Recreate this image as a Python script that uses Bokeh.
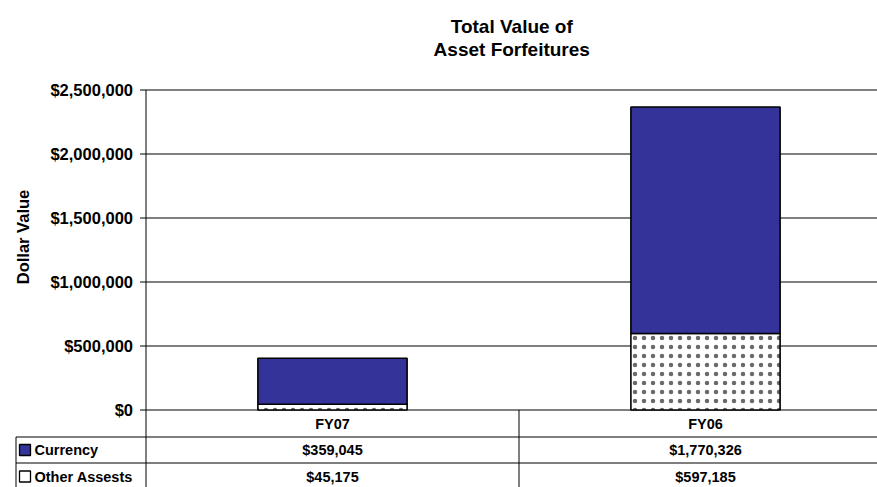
import math
from bokeh.plotting import figure
from bokeh.models import ColumnDataSource, Range1d
from bokeh.embed import file_html
from bokeh.resources import INLINE
from bokeh.core.properties import value

# ---------------- data ----------------
categories = ["FY07", "FY06"]
currency = [359045, 1770326]
other_assets = [45175, 597185]
series_names = ["Currency", "Other Assests"]
title_lines = ["Total Value of", "Asset Forfeitures"]
y_ticks = [0, 500000, 1000000, 1500000, 2000000, 2500000]
y_label = "Dollar Value"

# ---------------- styling / geometry (pixels) ----------------
FONT = "Liberation Sans"
NAVY = "#333399"
W, H = 877, 487
PLOT_X0 = 145.5       # left edge of plot area (value axis)
CAT_W = 373.0         # pixels per category
Y_MAX = 2500000
PX_PER_YMAX = 320.0   # pixels from $0 to $2,500,000
ZERO_Y = 409.5        # pixel row of the $0 line


def yv(py):
    """data value at pixel row py"""
    return (ZERO_Y - py) / PX_PER_YMAX * Y_MAX


def xv(px):
    """category coordinate at pixel column px"""
    return (px - PLOT_X0) / CAT_W


n = len(categories)
xs = [i + 0.5 for i in range(n)]
totals = [c + o for c, o in zip(currency, other_assets)]
src = ColumnDataSource(dict(x=xs, cur=currency, oth=other_assets, tot=totals))

p = figure(width=W, height=H, title=None, toolbar_location=None, output_backend="svg",
           x_axis_location=None, y_axis_location=None,
           x_range=Range1d(xv(0), xv(W)), y_range=Range1d(yv(H), yv(0)),
           min_border_left=0, min_border_right=0, min_border_top=0, min_border_bottom=0)
p.outline_line_color = None
p.background_fill_color = "white"
p.border_fill_color = "white"
p.xgrid.visible = False
p.ygrid.visible = False

x_end = xv(W + 20)
y_end = yv(H + 20)
LC = "black"

# gridlines (value axis)
p.segment(x0=[0] * len(y_ticks), y0=y_ticks, x1=[x_end] * len(y_ticks), y1=y_ticks,
          line_color=LC, line_width=1)
# value axis line (continues down through the data table)
p.segment(x0=[0], y0=[max(y_ticks)], x1=[0], y1=[y_end], line_color=LC, line_width=1)
# tick marks
p.segment(x0=[xv(PLOT_X0 - 6)] * len(y_ticks), y0=y_ticks, x1=[0] * len(y_ticks), y1=y_ticks,
          line_color=LC, line_width=1)
# tick labels
p.text(x=[xv(PLOT_X0 - 13)] * len(y_ticks), y=y_ticks, text=[f"${v:,.0f}" for v in y_ticks],
       text_font=value(FONT), text_font_style="bold", text_font_size="16.5px",
       text_align="right", text_baseline="middle", text_color="black")
# axis title
p.text(x=[xv(22)], y=[yv(236.5)], text=[y_label], angle=math.pi / 2,
       text_font=value(FONT), text_font_style="bold", text_font_size="16.5px",
       text_align="center", text_baseline="middle", text_color="black")

# bars
BAR_W = 0.4
p.vbar(x="x", bottom=0, top="oth", width=BAR_W, source=src,
       fill_color="white", line_color="black", line_width=1.6,
       hatch_pattern="dot", hatch_scale=9, hatch_color="#6a6a6a", hatch_weight=0.4)
p.vbar(x="x", bottom="oth", top="tot", width=BAR_W, source=src,
       fill_color=NAVY, line_color="black", line_width=1.6)

# chart title, centred over the plot area
xc = xv((PLOT_X0 + W) / 2)
p.text(x=[xc, xc], y=[yv(25.5), yv(48.5)], text=title_lines,
       text_font=value(FONT), text_font_style="bold", text_font_size="19px",
       text_align="center", text_baseline="alphabetic", text_color="black")

# ---------------- data table ----------------
row_lines = [ZERO_Y + 27, ZERO_Y + 53]          # row separators
row_c = [ZERO_Y + 13.5, ZERO_Y + 40, ZERO_Y + 66.5]
TABLE_X0 = 15.5

p.segment(x0=[xv(TABLE_X0)] * 2, y0=[yv(r) for r in row_lines],
          x1=[x_end] * 2, y1=[yv(r) for r in row_lines], line_color=LC, line_width=1)
p.segment(x0=[xv(TABLE_X0)], y0=[yv(row_lines[0])], x1=[xv(TABLE_X0)], y1=[y_end],
          line_color=LC, line_width=1)
div_x = [float(i) for i in range(1, n)]
p.segment(x0=div_x, y0=[0] * len(div_x), x1=div_x, y1=[y_end] * len(div_x),
          line_color=LC, line_width=1)

txt = dict(text_font=value(FONT), text_font_style="bold", text_font_size="14.5px",
           text_color="black", text_baseline="middle")
p.text(x=xs, y=[yv(row_c[0])] * n, text=categories, text_align="center", **txt)
p.text(x=xs, y=[yv(row_c[1])] * n, text=[f"${v:,.0f}" for v in currency],
       text_align="center", **txt)
p.text(x=xs, y=[yv(row_c[2])] * n, text=[f"${v:,.0f}" for v in other_assets],
       text_align="center", **txt)

# row headers with legend keys
p.scatter(x=[xv(24.5)] * 2, y=[yv(c) for c in row_c[1:]], marker="square", size=11,
          fill_color=[NAVY, "white"], line_color="black", line_width=1.3)
p.text(x=[xv(34)] * 2, y=[yv(c) for c in row_c[1:]], text=series_names,
       text_align="left", **txt)

open("out.html", "w").write(file_html(p, INLINE))
